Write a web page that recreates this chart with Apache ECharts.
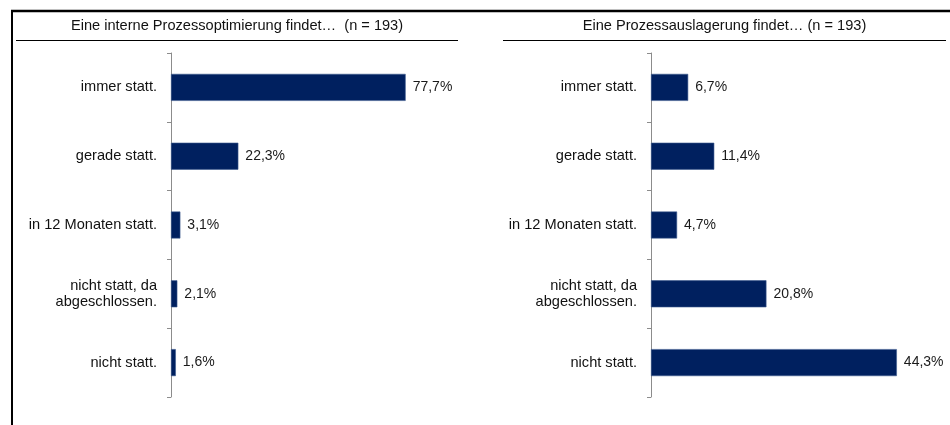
<!DOCTYPE html>
<html>
<head>
<meta charset="utf-8">
<script src="https://cdn.jsdelivr.net/npm/echarts@6/dist/echarts.min.js"></script>
<style>
html,body{margin:0;padding:0;background:#fff;}
#chart{width:950px;height:425px;}
</style>
</head>
<body>
<div id="chart"></div>
<script>
const categories = ['immer statt.', 'gerade statt.', 'in 12 Monaten statt.', 'nicht statt, da\nabgeschlossen.', 'nicht statt.'];
const titleLeft = 'Eine interne Prozessoptimierung findet…  (n = 193)';
const titleRight = 'Eine Prozessauslagerung findet… (n = 193)';
const valuesLeft = [77.7, 22.3, 3.1, 2.1, 1.6];
const valuesRight = [6.7, 11.4, 4.7, 20.8, 44.3];

const FONT = '"Liberation Sans", Arial, sans-serif';
const BAR = '#00205f';

const chart = echarts.init(document.getElementById('chart'), null, {renderer: 'canvas'});

function yAxisDef(idx) {
  return {
    type: 'category',
    gridIndex: idx,
    data: categories,
    inverse: true,
    axisLine: {show: true, lineStyle: {color: '#8c8c8c', width: 1}},
    axisTick: {show: true, length: 4, lineStyle: {color: '#8c8c8c'}},
    axisLabel: {
      color: '#111', fontSize: 14.6, fontFamily: FONT, margin: 14,
      lineHeight: 16, align: 'right'
    },
    splitLine: {show: false}
  };
}
function xAxisDef(idx, max) {
  return {
    type: 'value', gridIndex: idx, min: 0, max: max,
    show: false, splitLine: {show: false}
  };
}
function seriesDef(idx, vals) {
  return {
    type: 'bar',
    xAxisIndex: idx, yAxisIndex: idx,
    data: vals,
    barWidth: 27,
    itemStyle: {color: BAR, borderColor: '#3d5a8e', borderWidth: 0.6},
    label: {
      show: true, position: 'right', distance: 7,
      color: '#1a1a1a', fontSize: 14, fontFamily: FONT,
      formatter: p => p.value.toFixed(1).replace('.', ',') + '%'
    },
    silent: true,
    animation: false
  };
}

chart.setOption({
  animation: false,
  textStyle: {fontFamily: FONT},
  grid: [
    {left: 171, top: 53, width: 302, height: 344},
    {left: 651, top: 53, width: 277.5, height: 344}
  ],
  xAxis: [xAxisDef(0, 100), xAxisDef(1, 50)],
  yAxis: [yAxisDef(0), yAxisDef(1)],
  series: [seriesDef(0, valuesLeft), seriesDef(1, valuesRight)],
  graphic: [
    {type: 'line', shape: {x1: 11, y1: 11, x2: 950, y2: 11}, style: {stroke: '#000', lineWidth: 2.5}, silent: true},
    {type: 'line', shape: {x1: 12, y1: 10, x2: 12, y2: 425}, style: {stroke: '#000', lineWidth: 2}, silent: true},
    {type: 'line', shape: {x1: 16, y1: 40.5, x2: 458, y2: 40.5}, style: {stroke: '#000', lineWidth: 1}, silent: true},
    {type: 'line', shape: {x1: 503, y1: 40.5, x2: 946, y2: 40.5}, style: {stroke: '#000', lineWidth: 1}, silent: true},
    {type: 'text', x: 237, y: 26, style: {text: titleLeft, font: '14.6px ' + FONT, fill: '#111', textAlign: 'center', textVerticalAlign: 'middle'}, silent: true},
    {type: 'text', x: 724.5, y: 26, style: {text: titleRight, font: '14.6px ' + FONT, fill: '#111', textAlign: 'center', textVerticalAlign: 'middle'}, silent: true}
  ]
});
</script>
</body>
</html>
